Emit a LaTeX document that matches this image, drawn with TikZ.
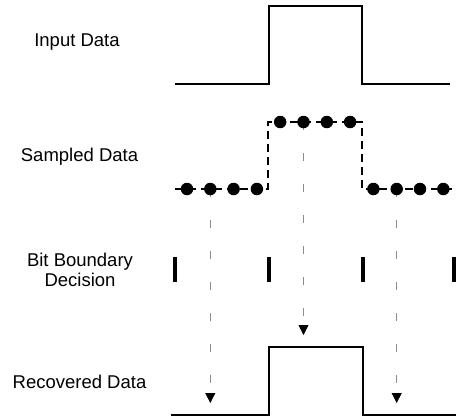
\documentclass[tikz,border=0pt]{standalone}
\usepackage{fontspec}
\setmainfont{Liberation Sans}
\usetikzlibrary{arrows.meta,backgrounds}
\begin{document}
\begin{tikzpicture}[x=1pt,y=-1pt,
  wave/.style={line width=1.7pt, line join=miter},
  sampledline/.style={line width=1.4pt, dash pattern=on 8pt off 5pt},
  sample/.style={circle, fill=black, inner sep=0pt, minimum size=12.5pt},
  probe/.style={line width=0.75pt, black!45, dash pattern=on 8pt off 23pt,
    -{Triangle[width=10pt,length=10pt,black]}},
  boundary/.style={line width=3.2pt},
  lbl/.style={font=\fontsize{18.5}{20}\selectfont, align=center, inner sep=0pt}]
\useasboundingbox (0,0) rectangle (456,416);

% row labels
\node[lbl, anchor=base] (lin)  at (77,46.7)  {Input Data};
\node[lbl, anchor=base] (lsam) at (79.5,161.7) {Sampled Data};
\node[lbl, anchor=center] (lbit) at (80,269.4) {Bit Boundary\\Decision};
\node[lbl, anchor=base] (lrec) at (79.5,388.3) {Recovered Data};

% input waveform
\draw[wave] (175,84) -- (269,84) -- (269,6) -- (362,6) -- (362,84) -- (450,84);

% sampled waveform
\draw[sampledline] (175,189) -- (268,189) -- (268,122) -- (362,122) -- (362,189) -- (452,189);
\foreach \i/\x/\y in {1/187.0/189, 2/210.3/189, 3/233.6/189, 4/256.9/189,
                      5/280.2/122, 6/303.5/122, 7/326.8/122, 8/350.1/122,
                      9/373.4/189, 10/396.7/189, 11/420.0/189, 12/443.3/189}
  \node[sample] (s\i) at (\x,\y) {};

% bit boundary decisions
\foreach \x in {175,269,363,454}
  \draw[boundary] (\x,257) -- (\x,282);

% recovered waveform
\draw[wave] (171,415) -- (269,415) -- (269,347) -- (363,347) -- (363,415) -- (456,415);

% sampling points carried down to the recovered data
\coordinate (r1) at (210.3,403);
\coordinate (r2) at (303.5,335);
\coordinate (r3) at (396.7,403);
\begin{scope}[on background layer]
  \draw[probe] (s2.center) -- (r1);
  \draw[probe] (s6.center) -- (r2);
  \draw[probe] (s10.center) -- (r3);
\end{scope}
\end{tikzpicture}
\end{document}
